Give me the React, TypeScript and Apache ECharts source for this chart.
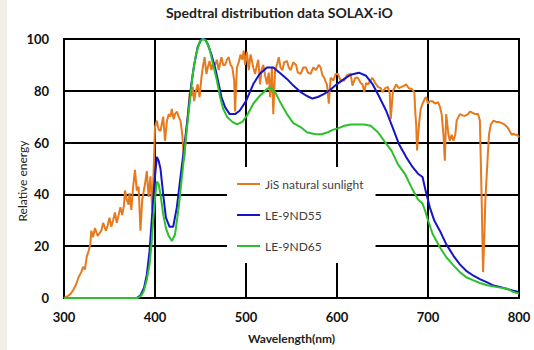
import React, { useEffect, useRef } from "react";
import * as echarts from "echarts";

const TITLE = "Spedtral distribution data SOLAX-iO";
const X_NAME = "Wavelength(nm)";
const Y_NAME = "Relative energy";
const SERIES_NAMES = ["JiS natural sunlight", "LE-9ND55", "LE-9ND65"];

const SUN_WL = [300,303,307,310,313,316,319,321,323,325,327,329,330,332,334,337,339,341,343,346,348,350,352,354,356,358,360,362,364,366,367,369,371,372,374,376,378,380,382,384,386,389,391,393,395,397,399,400,402,404,406,409,411,413,415,417,418.5,420.5,422,424,426,428,430,432,434,436,438,440,441.5,443,445,447,449,451,452.5,454.5,456.5,458,460,462,464,466,468,470,473,475,477,479,481,483,485,487,488,490,492,494,496,497.5,499,501,503,505,508,510,512,513.5,515.5,517,519,521,523,525,526.5,528.5,530,532,534,536,538,540,542,545,547,549,552,555,557,560,563,566,568,571,574,577,580,582,584,586,588,589,591,593,596,598.5,601,604,608,611,615,617,620,623,626,628,630,632,634,637,639,642,645,648,650,653,656,658,659,661.5,663,665,668,671,674,676,679,682,685,686,687,688,689,690.5,692,694,696.5,698,700,702,705,708,711,713,715,717,718.5,720,722.5,724,726,728,730,731.5,735,738,741,744,746,749,752,755,757,759,760.5,762,763,765,767,769,772,775,778,781,784,787,789,792,794,796,798,800];
const SUN = [0,0.5,1.5,3,5,8,10,12,11,16,18,21,26,23.5,27,24,25,26,29,26,28,31,27.5,30,33,29,32,35,32,36,41.5,38,36,40.5,34,43,49.5,41.5,43,26,38,44,49,39,47,34,54.5,66,68.5,65,64.5,70,60.7,68,71,70,73,69,71,72,70,68.5,63,53,62,70,79,78,81.5,76,80,82.5,77.5,85,89,93,86.5,89,91.5,88,91,90,92,88,93,90,90,92,93,90,89,84,72,89,91,94,92,95.5,90,95,88,94,89,86.5,90,92,82.5,88,90,86,82.5,87,77.5,89,71,88,90,93,89,88,91,91.5,89,88,91,90,87,86.5,89,89,87,86.5,89,88,90,89,86,85,83,82.5,75,85,84,86.5,86.5,84,84,86,86.5,82,85,85,83,82.5,79.5,83,82.5,84,85,83,81.5,81,79.5,81,81.5,79,69,80,81,82.5,81,81.5,82,82.5,81,80.7,79.5,72,67,57,62,68.5,73,75,77,77.5,75,76,76,75,75.6,74,71,63,53,71,63,60.7,63,60.7,63,68.5,71,70.5,70.4,71,72,71.5,71,71,68.5,37.6,10,25,37.6,50.6,63,67,68.5,68,68,67.5,67,66,65,63,63.5,63,63,62];

const LE55_WL = [300,380,384,388,391,394,396,398,400,402,404,406,409,412,416,420,424,428,432,436,439.5,443,447,451,455,458,462,466,470,473,477,482,488,493,500,508,515,523,530,537,545,552,560,567,573,579,586,593,600,608,615,624,632,639,646,654,661,668,676,683,689,694,697,702,707,713,720,728,735,742,750,757,765,772,780,787,794,800];
const LE55 = [0,0,1,4,9,18,28,38,47,54.5,53,50,40,31,27.5,27.5,35,46.7,58,70,81.5,90,97,100,100,98,94,89,82.6,77.6,73.7,71,71,72.3,76,82.6,86.5,89,89,87,84.6,82,79.5,78,77,77.6,78.8,80.5,82.6,84.6,86.2,87,85.8,82.6,78,72.3,66,59.5,54.4,50.6,48,46.7,42,35,29.8,26,20.8,16.3,13,10.5,8.6,7.3,6,4.8,4.2,3.5,2.8,2.3];

const LE65_WL = [300,381,385,388,391,394,396,398,400,402,404,406,409,412,415,418.5,422,426,430,434,438,441.5,445,449,452.5,456,460,464,468,471.5,475,479,485,490,496,501,508,515,523,526.5,532,537,545,552,560,567,575,583,590,596,601,608,615,630,637,645,652,660,667,675,682,689,694,697,700,705,713,720,728,735,742,750,757,765,776,787,794,800];
const LE65 = [0,0,1,3,7,13,20,30,38,45,44,40,32.4,27,24,22,24.5,35,48,62,75,86.5,94,98.8,100,99.4,96,90,84,77.6,73,70,68,67,68,70.4,75,78,80.7,81.3,79.5,76,71,67.5,66,64,63.3,63.2,64,65,65.5,66.5,67,67,66.5,64,60.6,56.8,51.6,47.7,42.6,38,36.5,33.5,30,24.8,19.6,15.8,12.6,10,8,6.8,5.8,4.9,4.2,3.6,2.3,1.7];

const COLORS = ["#e57a1f", "#1414c8", "#2cc02c"];
const FONT = "Lato, 'Open Sans', sans-serif";

function pairs(xs: number[], ys: number[]) {
  return xs.map((x, i) => [x, ys[i]]);
}

export default function App() {
  const ref = useRef<HTMLDivElement>(null);
  useEffect(() => {
    document.body.style.margin = "0";
    const chart = echarts.init(ref.current!, null, { renderer: "svg" });
    const data = [pairs(SUN_WL, SUN), pairs(LE55_WL, LE55), pairs(LE65_WL, LE65)];
    chart.setOption({
      animation: false,
      backgroundColor: "#ffffff",
      title: {
        text: TITLE,
        left: 166,
        top: 5,
        padding: 0,
        textStyle: { fontFamily: FONT, fontSize: 14, fontWeight: "bold", color: "#222" },
      },
      graphic: [
        { type: "rect", left: 0, top: 0, shape: { width: 7, height: 350 }, style: { fill: "#f2efe9" } },
        {
          type: "text",
          x: 22,
          y: 181,
          rotation: Math.PI / 2,
          style: { text: Y_NAME, fontFamily: FONT, fontSize: 12, fill: "#222", align: "center", verticalAlign: "middle" },
        },
      ],
      legend: {
        orient: "vertical",
        left: 227,
        top: 167,
        backgroundColor: "#ffffff",
        padding: [10, 12, 10, 10],
        itemGap: 17,
        itemWidth: 23,
        itemHeight: 2,
        icon: "rect",
        textStyle: { fontFamily: FONT, fontSize: 12, lineHeight: 14, color: "#404040" },
        data: SERIES_NAMES,
      },
      grid: {
        left: 64,
        right: 15,
        top: 39,
        bottom: 52,
        show: true,
        borderColor: "#000",
        borderWidth: 2,
      },
      xAxis: {
        type: "value",
        min: 300,
        max: 800,
        interval: 100,
        name: X_NAME,
        nameLocation: "middle",
        nameGap: 34,
        nameTextStyle: { fontFamily: FONT, fontSize: 12, fontWeight: "bold", color: "#222" },
        axisLine: { show: true, lineStyle: { color: "#000", width: 2 } },
        axisTick: { show: false },
        axisLabel: { margin: 12, fontFamily: FONT, fontSize: 13, fontWeight: "bold", color: "#111" },
        splitLine: { show: true, lineStyle: { color: "#000", width: 2 } },
      },
      yAxis: {
        type: "value",
        min: 0,
        max: 100,
        interval: 20,
        axisLine: { show: true, lineStyle: { color: "#000", width: 2 } },
        axisTick: { show: false },
        axisLabel: { margin: 15, fontFamily: FONT, fontSize: 13, fontWeight: "bold", color: "#111" },
        splitLine: { show: true, lineStyle: { color: "#000", width: 2 } },
      },
      series: SERIES_NAMES.map((name, i) => ({
        name,
        type: "line",
        data: data[i],
        symbol: "none",
        showSymbol: false,
        lineStyle: { color: COLORS[i], width: 2 },
        itemStyle: { color: COLORS[i] },
        z: 2 + i,
      })),
    });
    return () => chart.dispose();
  }, []);
  return <div ref={ref} style={{ width: 534, height: 350 }} />;
}
